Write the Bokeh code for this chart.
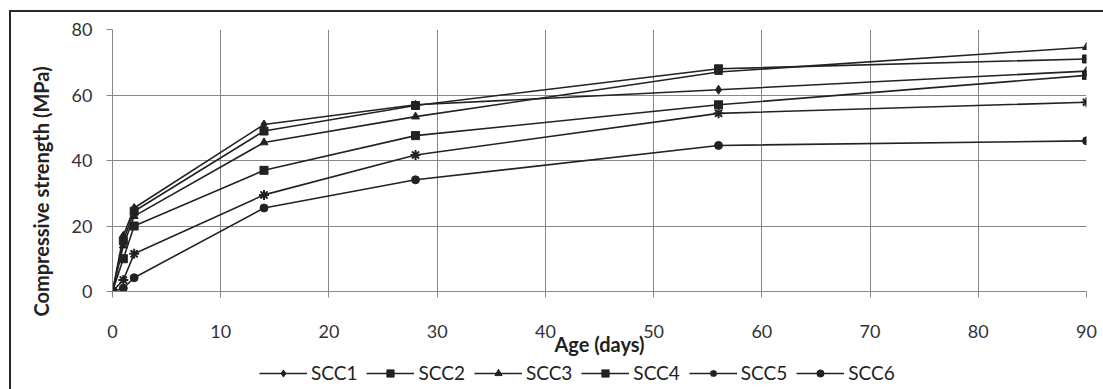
from bokeh.plotting import figure
from bokeh.models import Legend, LegendItem, Range1d, FixedTicker, Title, Div, Spacer
from bokeh.layouts import row, column
from bokeh.embed import file_html
from bokeh.resources import INLINE

days = [0, 1, 2, 14, 28, 56, 90]
series_names = ["SCC1", "SCC2", "SCC3", "SCC4", "SCC5", "SCC6"]
scc1 = [0, 17.0, 25.5, 51.0, 57.0, 61.6, 67.3]
scc2 = [0, 15.5, 24.5, 49.0, 56.8, 68.0, 71.0]
scc3 = [0, 14.0, 23.0, 45.5, 53.4, 67.0, 74.6]
scc4 = [0, 10.0, 20.0, 37.0, 47.6, 57.0, 66.0]
scc5 = [0, 3.5, 11.5, 29.5, 41.7, 54.4, 57.8]
scc6 = [0, 1.0, 4.2, 25.5, 34.1, 44.6, 46.0]
series_values = [scc1, scc2, scc3, scc4, scc5, scc6]
x_ticks = [0, 10, 20, 30, 40, 50, 60, 70, 80, 90]
y_ticks = [0, 20, 40, 60, 80]

markers = ["diamond", "square", "triangle", "square_x", "asterisk", "circle"]
msizes = [9, 8, 8, 8, 10, 8]

FONT = "Lato"
INK = "#222222"
GRID = "#878787"
FRAME = "#2a2a2a"

p = figure(width=1092, height=350, output_backend="svg", toolbar_location=None,
           x_range=Range1d(0, 90), y_range=Range1d(0, 80),
           min_border_left=99, min_border_right=17, min_border_top=17, min_border_bottom=71)
p.outline_line_color = None
p.background_fill_color = "white"
p.border_fill_color = "white"

p.xaxis.ticker = FixedTicker(ticks=x_ticks)
p.yaxis.ticker = FixedTicker(ticks=y_ticks)
for ax in (p.xaxis[0], p.yaxis[0]):
    ax.axis_line_color = GRID
    ax.major_tick_line_color = GRID
    ax.minor_tick_line_color = None
    ax.major_tick_in = 0
    ax.major_tick_out = 6
    ax.major_label_text_font = FONT
    ax.major_label_text_font_size = "18px"
    ax.major_label_text_color = "#333333"
p.xaxis.major_label_standoff = 27
p.yaxis.major_label_standoff = 14
p.xaxis.axis_label = "Age (days)"
p.xaxis.axis_label_standoff = -9
p.xaxis.axis_label_text_font = FONT
p.xaxis.axis_label_text_font_size = "20px"
p.xaxis.axis_label_text_font_style = "bold"
p.xaxis.axis_label_text_color = "#222222"

p.xgrid.grid_line_color = GRID
p.ygrid.grid_line_color = GRID
p.xgrid.grid_line_width = 1
p.ygrid.grid_line_width = 1

ytitle = Title(text="Compressive strength (MPa)", align="left", offset=-25,
               text_font=FONT, text_font_size="20px", text_font_style="bold",
               text_color="#222222", standoff=31)
p.add_layout(ytitle, "left")

for name, vals, mk, ms in zip(series_names, series_values, markers, msizes):
    p.line(days, vals, line_color=INK, line_width=1.6)
    p.scatter(days, vals, marker=mk, size=ms, fill_color=INK, line_color=INK,
              line_width=2 if mk == "asterisk" else 1)

# legend strip below the chart (its renderers sit outside its visible range)
lg = figure(width=1092, height=27, output_backend="svg", toolbar_location=None,
            x_axis_type=None, y_axis_type=None,
            x_range=Range1d(0, 90), y_range=Range1d(1000, 1001),
            min_border_left=0, min_border_right=0, min_border_top=0, min_border_bottom=0)
lg.outline_line_color = None
lg.background_fill_color = "white"
lg.border_fill_color = "white"
lg.xgrid.visible = False
lg.ygrid.visible = False
items = []
for name, vals, mk, ms in zip(series_names, series_values, markers, msizes):
    r1 = lg.line(days, vals, line_color=INK, line_width=1.6)
    r2 = lg.scatter(days, vals, marker=mk, size=ms, fill_color=INK, line_color=INK,
                    line_width=2 if mk == "asterisk" else 1)
    items.append(LegendItem(label=name, renderers=[r1, r2]))
legend = Legend(items=items, orientation="horizontal", location=(147, 5),
                glyph_width=48, glyph_height=18, label_standoff=4, spacing=9,
                padding=0, margin=0, border_line_color=None, background_fill_alpha=0,
                label_text_font=FONT, label_text_font_size="19px", label_text_color="#222222")
lg.add_layout(legend)

left_rule = Div(width=2, height=379, margin=0, styles={"background-color": FRAME})
top_rule = Div(width=1092, height=2, margin=0, styles={"background-color": FRAME})
layout = column(Spacer(width=1103, height=10, margin=0),
                row(Spacer(width=9, height=379, margin=0), left_rule,
                    column(top_rule, p, lg, margin=0, spacing=0), margin=0, spacing=0),
                margin=0, spacing=0)

open("out.html", "w").write(file_html(layout, INLINE))
